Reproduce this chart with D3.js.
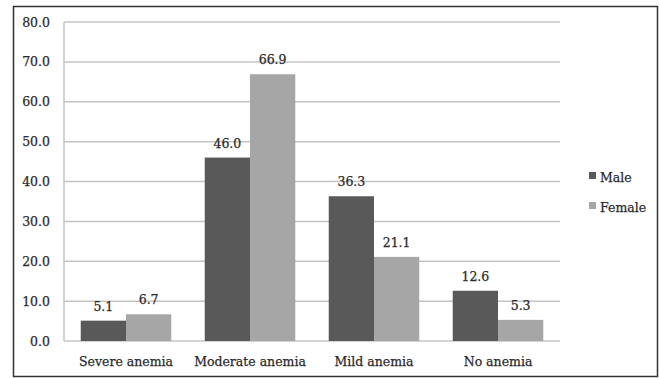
<!DOCTYPE html>
<html><head><meta charset="utf-8">
<script src="https://cdn.jsdelivr.net/npm/d3@7"></script>
<style>body{margin:0;background:#fff}svg{display:block}text{font-family:"DejaVu Serif",serif;fill:#2a2a2a;stroke:#2a2a2a;stroke-width:0.25px}</style>
</head><body><svg id="c" width="659" height="378"></svg>
<script>
const categories = ["Severe anemia","Moderate anemia","Mild anemia","No anemia"];
const seriesNames = ["Male","Female"];
const male = [5.1, 46.0, 36.3, 12.6];
const female = [6.7, 66.9, 21.1, 5.3];
const yTicks = [0,10,20,30,40,50,60,70,80];
const colors = ["#595959","#a6a6a6"];

const svg = d3.select("#c");
svg.append("rect").attr("x",13.5).attr("y",6.5).attr("width",644).attr("height",370)
  .attr("fill","#fff").attr("stroke","#333").attr("stroke-width",1.5);

const L=64, R=560, T=22, B=341;
const x = d3.scaleBand().domain(categories).range([L,R]).paddingInner(0.27).paddingOuter(0.135);
const xs = d3.scaleBand().domain(seriesNames).range([0,x.bandwidth()]);
const y = d3.scaleLinear().domain([0,80]).range([B,T]);

svg.append("g").selectAll("line").data(yTicks).join("line")
  .attr("x1",L).attr("x2",R).attr("y1",d=>y(d)).attr("y2",d=>y(d))
  .attr("stroke","#c4c4c4").attr("stroke-width",1.5);
svg.append("line").attr("x1",L).attr("x2",L).attr("y1",T).attr("y2",B)
  .attr("stroke","#c4c4c4").attr("stroke-width",1.5);

const fs = "12.5px";
const yAxis = svg.append("g").attr("transform",`translate(${L},0)`)
  .call(d3.axisLeft(y).tickValues(yTicks).tickFormat(d3.format(".1f")).tickSize(0).tickPadding(14));
yAxis.select(".domain").remove();
yAxis.selectAll("text").style("font-size",fs).style("font-family","DejaVu Serif").attr("fill","#2a2a2a");

const xAxis = svg.append("g").attr("transform",`translate(0,${B})`)
  .call(d3.axisBottom(x).tickSize(0).tickPadding(16));
xAxis.select(".domain").remove();
xAxis.selectAll("text").style("font-size",fs).style("font-family","DejaVu Serif").attr("fill","#2a2a2a");

const data = categories.map((c,i)=>({c, vals:[{s:"Male",v:male[i]},{s:"Female",v:female[i]}]}));
const g = svg.append("g").selectAll("g").data(data).join("g")
  .attr("transform",d=>`translate(${x(d.c)},0)`);
g.selectAll("rect").data(d=>d.vals).join("rect")
  .attr("x",d=>xs(d.s)).attr("width",xs.bandwidth())
  .attr("y",d=>y(d.v)).attr("height",d=>B-y(d.v))
  .attr("fill",(d,i)=>colors[i]);
g.selectAll("text").data(d=>d.vals).join("text")
  .attr("x",d=>xs(d.s)+xs.bandwidth()/2).attr("y",d=>y(d.v)-10)
  .attr("text-anchor","middle").style("font-size",fs).text(d=>d.v.toFixed(1));

const lg = svg.append("g").selectAll("g").data(seriesNames).join("g")
  .attr("transform",(d,i)=>`translate(589,${172+i*30})`);
lg.append("rect").attr("width",7).attr("height",7).attr("fill",(d,i)=>colors[i]);
lg.append("text").attr("x",11).attr("y",10).style("font-size",fs).text(d=>d);
</script></body></html>
